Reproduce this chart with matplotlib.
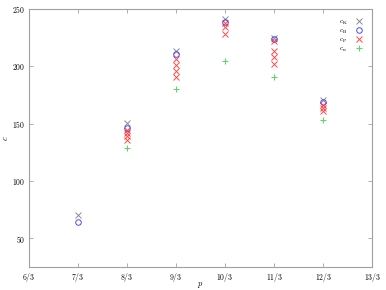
import numpy as np
import matplotlib
matplotlib.use("Agg")
import matplotlib.pyplot as plt

plt.rcParams['mathtext.fontset'] = 'cm'
plt.rcParams['font.family'] = ['cmr10', 'DejaVu Serif']
plt.rcParams['axes.formatter.use_mathtext'] = True

# data (p in thirds)
p_k = [7, 8, 9, 10, 11, 12]
c_k = [70, 151, 213, 241, 225, 170.5]

p_b = [7, 8, 9, 10, 11, 12]
c_b = [64.5, 146, 210.5, 239, 224, 169]

p_p = [8, 8, 8, 8, 9, 9, 9, 9, 10, 10, 10, 11, 11, 11, 11, 12, 12, 12]
c_p = [144.5, 142, 139, 135.5, 206.5, 201.5, 196, 191,
       237.5, 234.3, 228.5, 221.7, 213.6, 207.8, 202, 166, 163.5, 161.5]

p_u = [8, 9, 10, 11, 12]
c_u = [128.5, 180.5, 204.5, 191, 153]

tick_num = [6, 7, 8, 9, 10, 11, 12, 13]
tick_labels = ['$%d/3$' % n for n in tick_num]

fig = plt.figure(figsize=(3.86, 2.90), dpi=100)
ax = fig.add_axes([0.075, 0.079, 0.889, 0.890])

ms = 4.0
ax.plot(np.array(p_k) / 3, c_k, 'x', color='#8c8c8c', ms=ms, mew=0.7, label=r'$c_{\rm K}$')
ax.plot(np.array(p_b) / 3, c_b, 'o', mfc='none', mec='#4a4aff', ms=ms, mew=0.7, label=r'$c_{\rm B}$')
ax.plot(np.array(p_p) / 3, c_p, 'x', color='#ff2a2a', ms=ms, mew=0.7, alpha=0.85, label=r'$c_{\rm P}$')
ax.plot(np.array(p_u) / 3, c_u, '+', color='#55dd55', ms=ms, mew=0.7, label=r'$c_{\rm u}$')

ax.set_xlim(6 / 3, 13 / 3)
ax.set_ylim(25, 250)
ax.set_xticks(np.array(tick_num) / 3)
ax.set_xticklabels(tick_labels)
ax.set_yticks([50, 100, 150, 200, 250])
ax.set_yticklabels(['$%d$' % v for v in [50, 100, 150, 200, 250]])

for s in ax.spines.values():
    s.set_color('#a0a0a0')
    s.set_linewidth(0.8)
ax.tick_params(direction='in', top=True, right=True, length=3, width=0.6,
               color='#a0a0a0', labelsize=5.5, pad=2.5)

ax.set_xlabel('$p$', fontsize=6)
ax.set_ylabel('$c$', fontsize=6)
ax.xaxis.set_label_coords(0.5, -0.05)
ax.yaxis.set_label_coords(-0.055, 0.5)

leg = ax.legend(loc='upper right', markerfirst=False, frameon=False, fontsize=5,
                handlelength=1.0, handletextpad=1.2, labelspacing=0.1,
                borderaxespad=1.0)

fig.savefig('out.png', dpi=100)
